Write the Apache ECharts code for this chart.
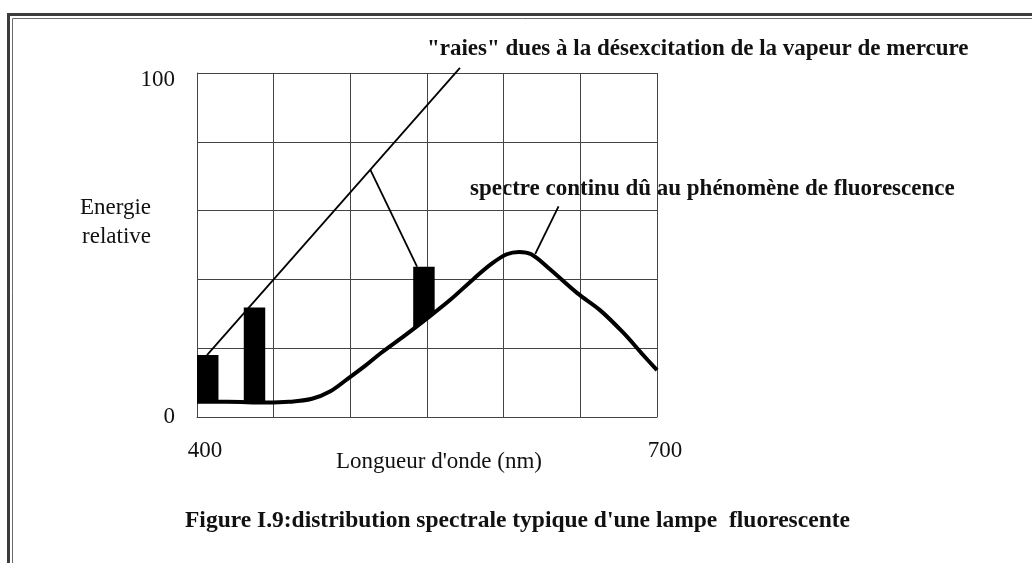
<!DOCTYPE html>
<html>
<head>
<meta charset="utf-8">
<title>Figure I.9</title>
<script src="https://cdn.jsdelivr.net/npm/echarts@6/dist/echarts.min.js"></script>
<style>
  html, body { margin: 0; padding: 0; background: #fff; }
  #chart { width: 1032px; height: 563px; }
</style>
</head>
<body>
<div id="chart"></div>
<script>
  // spectre continu : longueur d'onde (nm) / energie relative
  var waveLengths = [400, 420, 445, 460, 475, 487, 498, 510, 520, 535, 549, 565, 580, 592, 602, 610, 618, 630, 648, 663, 678, 690, 700]
  var continuum = [4.4, 4.4, 4.2, 4.4, 5.3, 7.5, 11, 15, 18.6, 23.5, 28.3, 34, 40, 44.5, 47.3, 48, 47.3, 43, 36, 31, 24.5, 18.5, 13.6]

  // raies du mercure : debut / fin (nm), pied (gauche, droite) et sommet
  var raieStart = [400, 430.5, 541]
  var raieEnd = [414, 444.5, 555]
  var raieFootStart = [4.4, 4.4, 25.5]
  var raieFootEnd = [4.4, 4.4, 30.5]
  var raieTop = [18, 31.8, 43.7]

  // traits de rappel vers les legendes
  var raiesLeader = [[406.5, 18], [571.5, 101.5]]
  var raiesBranch = [[513, 71.9], [543.5, 43.7]]
  var spectreLeader = [[620.6, 47.4], [635.8, 61.2]]

  var xTicks = [400, 700]
  var yTicks = [0, 100]

  var serif = '"Liberation Serif", "DejaVu Serif", serif'
  var ink = '#111'
  var gridColor = '#444'
  var fs = 23

  var chart = echarts.init(document.getElementById('chart'))

  function leader(data) {
    return {
      type: 'line',
      data: data,
      symbol: 'none',
      clip: false,
      silent: true,
      z: 3,
      lineStyle: { color: '#000', width: 1.8 },
    }
  }

  function boldText(x, y, text, size) {
    return {
      type: 'text',
      x: x,
      y: y,
      style: {
        text: text,
        fontFamily: serif,
        fontWeight: 'bold',
        fontSize: size || fs,
        fill: ink,
        verticalAlign: 'middle',
      },
    }
  }

  chart.setOption({
    animation: false,
    backgroundColor: '#fff',
    grid: { left: 197, right: 375, top: 73, bottom: 146 },
    xAxis: {
      type: 'value',
      min: 400,
      max: 700,
      interval: 50,
      name: "Longueur d'onde (nm)",
      nameLocation: 'middle',
      nameGap: 33,
      nameMoveOverlap: false,
      nameTextStyle: { fontFamily: serif, fontSize: fs, color: ink, padding: [0, 0, 0, 24] },
      axisLine: { lineStyle: { color: gridColor, width: 1 } },
      axisTick: { show: false },
      splitLine: { show: true, lineStyle: { color: gridColor, width: 1 } },
      axisLabel: {
        showMinLabel: true,
        showMaxLabel: true,
        margin: 22,
        fontFamily: serif,
        fontSize: fs,
        color: ink,
        padding: [0, 0, 0, 16],
        formatter: function (v) {
          return xTicks.indexOf(v) >= 0 ? String(v) : ''
        },
      },
    },
    yAxis: {
      type: 'value',
      min: 0,
      max: 100,
      interval: 20,
      axisLine: { show: true, lineStyle: { color: gridColor, width: 1 } },
      axisTick: { show: false },
      splitLine: { show: true, lineStyle: { color: gridColor, width: 1 } },
      axisLabel: {
        showMinLabel: true,
        showMaxLabel: true,
        margin: 22,
        fontFamily: serif,
        fontSize: fs,
        color: ink,
        formatter: function (v) {
          if (yTicks.indexOf(v) < 0) return ''
          return v === 100 ? '{low|' + v + '}' : String(v)
        },
        rich: {
          low: { fontFamily: serif, fontSize: fs, color: ink, padding: [14, 0, 0, 0] },
        },
      },
    },
    series: [
      {
        // raies
        type: 'custom',
        data: raieStart.map(function (s, i) {
          return [s, raieEnd[i], raieFootStart[i], raieFootEnd[i], raieTop[i]]
        }),
        encode: { x: [0, 1], y: [2, 3, 4] },
        z: 2,
        renderItem: function (params, api) {
          var a = api.coord([api.value(0), api.value(4)])
          var b = api.coord([api.value(1), api.value(4)])
          var c = api.coord([api.value(1), api.value(3)])
          var d = api.coord([api.value(0), api.value(2)])
          return {
            type: 'polygon',
            shape: { points: [a, b, c, d] },
            style: { fill: '#000' },
          }
        },
      },
      {
        type: 'line',
        data: waveLengths.map(function (w, i) {
          return [w, continuum[i]]
        }),
        smooth: 0.35,
        symbol: 'none',
        z: 4,
        lineStyle: { color: '#000', width: 4 },
      },
      leader(raiesLeader),
      leader(raiesBranch),
      leader(spectreLeader),
    ],
    graphic: [
      // cadre double
      {
        type: 'rect',
        shape: { x: 8.5, y: 14.5, width: 1100, height: 700 },
        style: { fill: null, stroke: '#3c3c3c', lineWidth: 3 },
      },
      {
        type: 'rect',
        shape: { x: 12.5, y: 18.5, width: 1100, height: 700 },
        style: { fill: null, stroke: '#6a6a6a', lineWidth: 1 },
      },
      // titre de l'axe vertical
      {
        type: 'text',
        x: 151,
        y: 222,
        style: {
          text: 'Energie\nrelative',
          fontFamily: serif,
          fontSize: fs,
          fill: ink,
          align: 'right',
          verticalAlign: 'middle',
          lineHeight: 29,
        },
      },
      boldText(427, 49, '"raies" dues à la désexcitation de la vapeur de mercure'),
      boldText(470, 189, 'spectre continu dû au phénomène de fluorescence'),
      boldText(185, 521, "Figure I.9:distribution spectrale typique d'une lampe  fluorescente", 23.5),
    ],
  })
</script>
</body>
</html>
